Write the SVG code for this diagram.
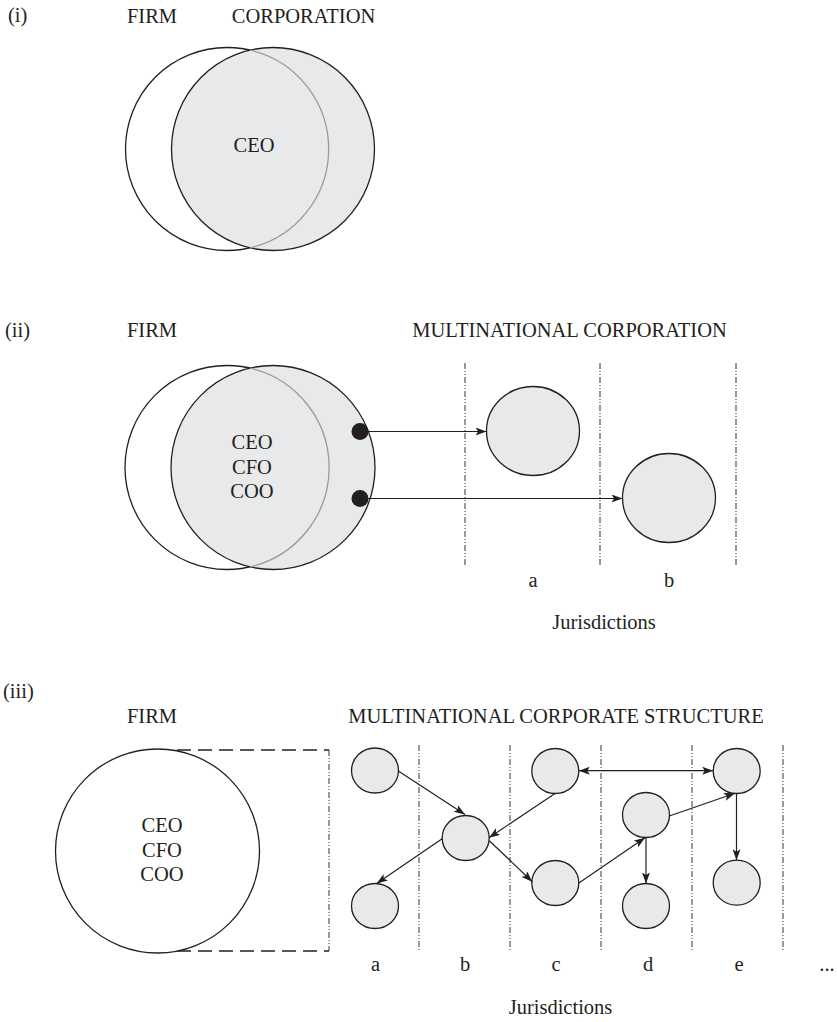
<svg xmlns="http://www.w3.org/2000/svg" width="837" height="1022" viewBox="0 0 837 1022">
<style>
text{font-family:"Liberation Serif","Times New Roman",serif;font-size:20.5px;fill:#231f20}
.m{text-anchor:middle}
.wc{fill:#ffffff;stroke:#231f20;stroke-width:1.3}
.gc{fill:#e8e9eb;stroke:#231f20;stroke-width:1.3}
.arc{fill:none;stroke:#9a9a9a;stroke-width:1.3}
.jl{stroke:#333;stroke-width:1;stroke-dasharray:6 2 1 2 1 2;fill:none}
.dl{stroke:#231f20;stroke-width:1.3;stroke-dasharray:14 7;fill:none}
.cn{stroke:#231f20;stroke-width:1.2;fill:none}
.ar{marker-end:url(#ah)}
.bi{marker-start:url(#ah);marker-end:url(#ah)}
</style>
<defs>
<marker id="ah" markerUnits="userSpaceOnUse" markerWidth="12" markerHeight="9" refX="11" refY="4" orient="auto-start-reverse">
<path d="M0,0 L11,4 L0,8 L2.5,4 z" fill="#231f20"/>
</marker>
</defs>

<!-- (i) -->
<g id="label-i">
<text x="8" y="22">(i)</text>
<text class="m" x="152" y="23">FIRM</text>
<text class="m" x="303.5" y="23">CORPORATION</text>
</g>
<g id="i-firm"><circle class="wc" cx="227" cy="149" r="101.5"/></g>
<g id="i-corporation">
<circle class="gc" cx="273" cy="149" r="101.5"/>
<path class="arc" d="M250,50.1 A101.5,101.5 0 0 1 250,247.9"/>
<text class="m" x="254" y="152">CEO</text>
</g>

<!-- (ii) -->
<g id="label-ii">
<text x="5" y="337">(ii)</text>
<text class="m" x="152" y="337">FIRM</text>
<text class="m" x="569.5" y="337">MULTINATIONAL CORPORATION</text>
</g>
<g id="ii-jurisdiction-lines">
<line class="jl" x1="465" y1="363" x2="465" y2="567"/>
<line class="jl" x1="600" y1="363" x2="600" y2="567"/>
<line class="jl" x1="736" y1="363" x2="736" y2="567"/>
</g>
<g id="ii-firm"><circle class="wc" cx="227" cy="467.5" r="102"/></g>
<g id="ii-corporation">
<circle class="gc" cx="273" cy="467.5" r="102"/>
<path class="arc" d="M250,368.1 A102,102 0 0 1 250,566.9"/>
<text class="m" x="252" y="449">CEO</text>
<text class="m" x="252" y="474">CFO</text>
<text class="m" x="252" y="498">COO</text>
</g>
<g id="ii-sub-a"><ellipse class="gc" cx="533" cy="431" rx="46.5" ry="44.5"/></g>
<g id="ii-sub-b"><ellipse class="gc" cx="669" cy="498" rx="46.5" ry="44.5"/></g>
<g id="ii-connectors">
<line class="cn ar" x1="360" y1="431.5" x2="486.5" y2="431.5"/>
<line class="cn ar" x1="360" y1="498.5" x2="622.5" y2="498.5"/>
<circle cx="360" cy="431.5" r="8.5" fill="#231f20"/>
<circle cx="360" cy="498.5" r="8.5" fill="#231f20"/>
</g>
<g id="ii-jurisdiction-labels">
<text class="m" x="533" y="587">a</text>
<text class="m" x="669" y="587">b</text>
<text class="m" x="604" y="629">Jurisdictions</text>
</g>

<!-- (iii) -->
<g id="label-iii">
<text x="3" y="698">(iii)</text>
<text class="m" x="152" y="723">FIRM</text>
<text class="m" x="556" y="723">MULTINATIONAL CORPORATE STRUCTURE</text>
</g>
<g id="iii-jurisdiction-lines">
<line class="jl" x1="419" y1="745" x2="419" y2="950"/>
<line class="jl" x1="510" y1="745" x2="510" y2="950"/>
<line class="jl" x1="601" y1="745" x2="601" y2="950"/>
<line class="jl" x1="692" y1="745" x2="692" y2="950"/>
<line class="jl" x1="783" y1="745" x2="783" y2="950"/>
</g>
<g id="iii-boundary">
<line class="dl" x1="177" y1="750" x2="329" y2="750"/>
<line class="dl" x1="177" y1="951" x2="329" y2="951"/>
<line class="jl" x1="329" y1="750" x2="329" y2="951"/>
</g>
<g id="iii-firm">
<circle class="wc" cx="157.5" cy="851" r="102"/>
<text class="m" x="162" y="832">CEO</text>
<text class="m" x="162" y="857">CFO</text>
<text class="m" x="162" y="881">COO</text>
</g>
<g id="n-a-top"><ellipse class="gc" cx="375" cy="770.5" rx="23.5" ry="22.5"/></g>
<g id="n-a-bottom"><ellipse class="gc" cx="375" cy="906" rx="23.5" ry="22.5"/></g>
<g id="n-b"><ellipse class="gc" cx="465.7" cy="838" rx="23.5" ry="22.5"/></g>
<g id="n-c-top"><ellipse class="gc" cx="555.3" cy="771" rx="23.5" ry="22.5"/></g>
<g id="n-c-bottom"><ellipse class="gc" cx="555.3" cy="883" rx="23.5" ry="22.5"/></g>
<g id="n-d-mid"><ellipse class="gc" cx="646" cy="815" rx="23.5" ry="22.5"/></g>
<g id="n-d-bottom"><ellipse class="gc" cx="646" cy="906" rx="23.5" ry="22.5"/></g>
<g id="n-e-top"><ellipse class="gc" cx="736.7" cy="771" rx="23.5" ry="22.5"/></g>
<g id="n-e-bottom"><ellipse class="gc" cx="736.7" cy="882.7" rx="23.5" ry="22.5"/></g>
<g id="iii-connectors">
<line class="cn ar" x1="398.3" y1="771" x2="465" y2="814.5"/>
<line class="cn ar" x1="555" y1="793.5" x2="489" y2="837.7"/>
<line class="cn ar" x1="442.5" y1="838.5" x2="376.7" y2="883.5"/>
<line class="cn ar" x1="489.3" y1="840.7" x2="532.3" y2="881.7"/>
<line class="cn ar" x1="578.5" y1="883.3" x2="645" y2="837.8"/>
<line class="cn ar" x1="646" y1="837.8" x2="646" y2="883.5"/>
<line class="cn ar" x1="669.3" y1="816" x2="735" y2="793.3"/>
<line class="cn ar" x1="736.5" y1="793.5" x2="736.5" y2="860.2"/>
<line class="cn bi" x1="578.8" y1="770.7" x2="713.2" y2="770.7"/>
</g>
<g id="iii-jurisdiction-labels">
<text class="m" x="375.5" y="971">a</text>
<text class="m" x="465" y="971">b</text>
<text class="m" x="556" y="971">c</text>
<text class="m" x="648" y="971">d</text>
<text class="m" x="739" y="971">e</text>
<text class="m" x="827" y="971">...</text>
<text class="m" x="560.5" y="1014">Jurisdictions</text>
</g>
</svg>
